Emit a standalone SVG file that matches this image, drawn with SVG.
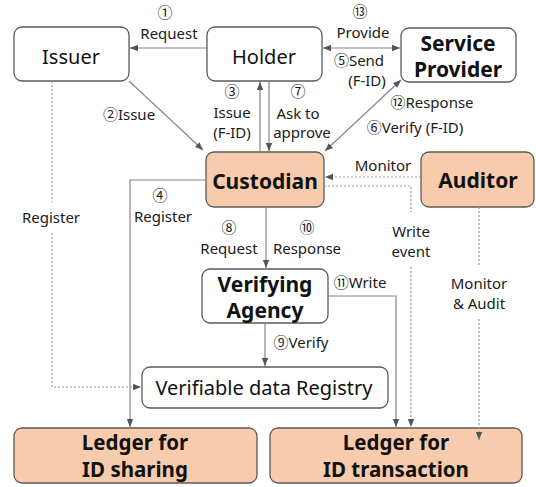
<svg xmlns="http://www.w3.org/2000/svg" width="536" height="487" viewBox="0 0 536 487">
  <defs>
    <marker id="arr" viewBox="0 0 8 8" refX="8" refY="4" markerWidth="8" markerHeight="8" markerUnits="userSpaceOnUse" orient="auto-start-reverse">
      <path d="M0,0.8 L8,4 L0,7.2 Z" fill="#555"/>
    </marker>
    <style>
      .box { fill: #fff; stroke: #5a5a5a; stroke-width: 1.3; }
      .hot { fill: #f8cbad; stroke: #5a5a5a; stroke-width: 1.3; }
      .ln { fill: none; stroke: #888; stroke-width: 1.2; }
      .dt { fill: none; stroke: #999; stroke-width: 1.2; stroke-dasharray: 2 2; }
      text { font-family: "Noto Sans", "Noto Sans CJK KR", sans-serif; fill: #111; text-anchor: middle; }
      .nr { font-size: 20px; }
      .nb { font-size: 21px; font-weight: bold; }
      .ld { font-size: 20.5px; font-weight: bold; }
      .lb { font-size: 15px; fill: #1a1a1a; }
    </style>
  </defs>
  <rect width="536" height="487" fill="#fff"/>

  <!-- nodes -->
  <g id="issuer">
    <rect class="box" x="14" y="27" width="115" height="54" rx="8"/>
    <text class="nr" x="71" y="64">Issuer</text>
  </g>
  <g id="holder">
    <rect class="box" x="207" y="27" width="115" height="54" rx="8"/>
    <text class="nr" x="264" y="64">Holder</text>
  </g>
  <g id="service-provider">
    <rect class="box" x="401" y="28" width="115" height="54" rx="8"/>
    <text class="nb" x="458" y="51">Service</text>
    <text class="nb" x="458" y="77">Provider</text>
  </g>
  <g id="custodian">
    <rect class="hot" x="206" y="152" width="118" height="55" rx="8"/>
    <text class="nb" x="265" y="189">Custodian</text>
  </g>
  <g id="auditor">
    <rect class="hot" x="421" y="152" width="113" height="55" rx="8"/>
    <text class="nb" x="478" y="188">Auditor</text>
  </g>
  <g id="verifying-agency">
    <rect class="box" x="202" y="269" width="126" height="54" rx="8"/>
    <text class="nb" x="265" y="292">Verifying</text>
    <text class="nb" x="265" y="318">Agency</text>
  </g>
  <g id="registry">
    <rect class="box" x="142" y="367" width="246" height="41" rx="8"/>
    <text class="nr" x="264" y="395">Verifiable data Registry</text>
  </g>
  <g id="ledger-sharing">
    <rect class="hot" x="14" y="428" width="243" height="55" rx="8"/>
    <text class="ld" x="135" y="450">Ledger for</text>
    <text class="ld" x="135" y="477">ID sharing</text>
  </g>
  <g id="ledger-transaction">
    <rect class="hot" x="270" y="428" width="252" height="55" rx="8"/>
    <text class="ld" x="396" y="450">Ledger for</text>
    <text class="ld" x="396" y="477">ID transaction</text>
  </g>

  <!-- connectors -->
  <g id="connectors">
    <!-- 1 Request: Holder -> Issuer -->
    <line class="ln" x1="207" y1="48" x2="130" y2="48" marker-end="url(#arr)"/>
    <!-- 2 Issue: Issuer -> Custodian -->
    <line class="ln" x1="129" y1="81" x2="203" y2="150" marker-end="url(#arr)"/>
    <!-- 3 Issue (F-ID): Custodian -> Holder -->
    <line class="ln" x1="260" y1="152" x2="260" y2="82" marker-end="url(#arr)"/>
    <!-- 7 Ask to approve: Holder -> Custodian -->
    <line class="ln" x1="269" y1="81" x2="269" y2="151" marker-end="url(#arr)"/>
    <!-- 13 Provide / 5 Send: Holder <-> Service Provider -->
    <line class="ln" x1="323" y1="48" x2="400" y2="48" marker-start="url(#arr)" marker-end="url(#arr)"/>
    <!-- 12 Response / 6 Verify: Service Provider <-> Custodian -->
    <line class="ln" x1="325" y1="151" x2="401" y2="80" marker-start="url(#arr)" marker-end="url(#arr)"/>
    <!-- Monitor: Auditor -> Custodian -->
    <line class="dt" x1="421" y1="177" x2="325" y2="177" marker-end="url(#arr)"/>
    <!-- Write event: Custodian -> Ledger for ID transaction -->
    <polyline class="dt" points="324,186 411,186 411,212"/>
    <line class="dt" x1="411" y1="267" x2="411" y2="427" marker-end="url(#arr)"/>
    <!-- 4 Register: Custodian -> Ledger for ID sharing -->
    <polyline class="ln" points="206,180 130,180 130,427" marker-end="url(#arr)"/>
    <!-- Register: Issuer -> Verifiable data Registry -->
    <line class="dt" x1="52" y1="81" x2="52" y2="202"/>
    <polyline class="dt" points="52,233 52,387 141,387" marker-end="url(#arr)"/>
    <!-- 8 Request / 10 Response: Custodian -> Verifying Agency -->
    <line class="ln" x1="266" y1="207" x2="266" y2="268" marker-end="url(#arr)"/>
    <!-- 11 Write: Verifying Agency -> Ledger for ID transaction -->
    <polyline class="ln" points="328,296 396,296 396,427" marker-end="url(#arr)"/>
    <!-- 9 Verify: Verifying Agency -> Verifiable data Registry -->
    <line class="ln" x1="265" y1="323" x2="265" y2="366" marker-end="url(#arr)"/>
    <!-- Monitor & Audit: Auditor -> Ledger for ID transaction -->
    <line class="dt" x1="479" y1="207" x2="479" y2="266"/>
    <line class="dt" x1="479" y1="319" x2="479" y2="440" marker-end="url(#arr)"/>
  </g>

  <!-- connector labels -->
  <g id="labels">
    <text class="lb" x="165" y="18">①</text>
    <text class="lb" x="169" y="39">Request</text>
    <text class="lb" x="129" y="120">②Issue</text>
    <text class="lb" x="232" y="97">③</text>
    <text class="lb" x="232" y="118">Issue</text>
    <text class="lb" x="232" y="138">(F-ID)</text>
    <text class="lb" x="298" y="97">⑦</text>
    <text class="lb" x="298" y="119">Ask to</text>
    <text class="lb" x="302" y="138">approve</text>
    <text class="lb" x="360" y="17">⑬</text>
    <text class="lb" x="363" y="38">Provide</text>
    <text class="lb" x="359" y="66">⑤Send</text>
    <text class="lb" x="367" y="86">(F-ID)</text>
    <text class="lb" x="432" y="108">⑫Response</text>
    <text class="lb" x="415" y="133">⑥Verify (F-ID)</text>
    <text class="lb" x="383" y="171">Monitor</text>
    <text class="lb" x="160" y="201">④</text>
    <text class="lb" x="163" y="222">Register</text>
    <text class="lb" x="51" y="223">Register</text>
    <text class="lb" x="229" y="233">⑧</text>
    <text class="lb" x="229" y="254">Request</text>
    <text class="lb" x="307" y="233">⑩</text>
    <text class="lb" x="307" y="254">Response</text>
    <text class="lb" x="411" y="237">Write</text>
    <text class="lb" x="411" y="257">event</text>
    <text class="lb" x="360" y="288">⑪Write</text>
    <text class="lb" x="479" y="289">Monitor</text>
    <text class="lb" x="479" y="309">&amp; Audit</text>
    <text class="lb" x="301" y="348">⑨Verify</text>
  </g>
</svg>
